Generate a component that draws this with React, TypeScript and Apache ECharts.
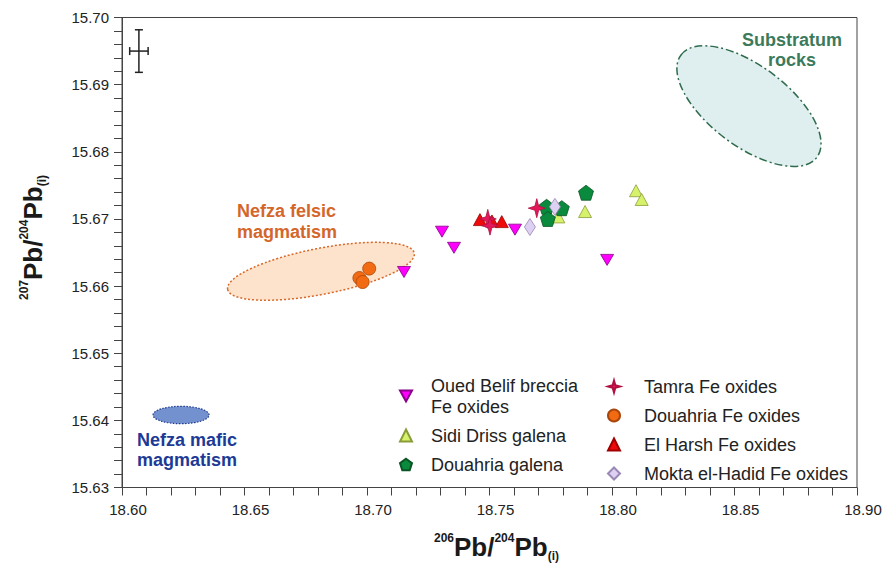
import React, { useEffect, useRef } from "react";
import * as echarts from "echarts";

// ---- Data ----
const xMin = 18.6;
const xMax = 18.9;
const xStep = 0.05;
const yMin = 15.63;
const yMax = 15.7;
const yStep = 0.01;

const ouedBelif = [
  [18.7306, 15.6681],
  [18.7355, 15.6657],
  [18.7151, 15.6621],
  [18.7604, 15.6684],
  [18.798, 15.6639],
];
const sidiDriss = [
  [18.7781, 15.6703],
  [18.789, 15.6711],
  [18.8098, 15.6742],
  [18.8121, 15.6729],
];
const douahriaGalena = [
  [18.7733, 15.6718],
  [18.7795, 15.6716],
  [18.7738, 15.67],
  [18.7894, 15.6739],
];
const tamra = [
  [18.7493, 15.67],
  [18.7502, 15.669],
  [18.7693, 15.6716],
];
const douahriaFe = [
  [18.7009, 15.6626],
  [18.6969, 15.6612],
  [18.6982, 15.6606],
];
const elHarsh = [
  [18.7461, 15.6699],
  [18.751, 15.6697],
  [18.755, 15.6696],
];
const moktaElHadid = [
  [18.7665, 15.6688],
  [18.7767, 15.6718],
];
// field centres: felsic, substratum, mafic
const fieldCentres = [
  [18.6812, 15.6622],
  [18.8559, 15.6868],
  [18.6241, 15.6408],
];
// analytical uncertainty cross: x, y, ±x, ±y
const errorCross = [[18.6069, 15.695, 0.00376, 0.00317]];

const names = {
  oued: "Oued Belif breccia\nFe oxides",
  sidi: "Sidi Driss galena",
  dgal: "Douahria galena",
  tamra: "Tamra Fe oxides",
  dfe: "Douahria Fe oxides",
  harsh: "El Harsh Fe oxides",
  mokta: "Mokta el-Hadid Fe oxides",
};

// ---- Styles ----
const FONT = '"Liberation Sans", Arial, Helvetica, sans-serif';
const fieldStyles = [
  { rx: 95, ry: 23, rot: 11, fill: "#fde3cb", stroke: "#d9692a", dash: [2, 2], lw: 1.5 },
  { rx: 85, ry: 40, rot: -37, fill: "#dfeff0", stroke: "#2f6b4c", dash: [8, 3, 2, 3], lw: 1.5 },
  { rx: 28, ry: 8.7, rot: 0, fill: "#7391cf", stroke: "#1f3a8f", dash: [1.5, 1.5], lw: 1.2 },
];

const STAR = "path://M0,-10 L2.2,-2.2 L10,0 L2.2,2.2 L0,10 L-2.2,2.2 L-10,0 L-2.2,-2.2 Z";
const PENTAGON = "path://M0,-10 L9.51,-3.09 L5.88,8.09 L-5.88,8.09 L-9.51,-3.09 Z";
const DOWN_TRI = "path://M0,0 L10,0 L5,9 Z";

export default function App() {
  const ref = useRef<HTMLDivElement>(null);

  useEffect(() => {
    if (!ref.current) return;
    const chart = echarts.init(ref.current, undefined, { renderer: "svg" });

    const nameRich = {
      sup: { fontSize: 12, fontWeight: "bold", fontFamily: FONT, color: "#1a1a1a", verticalAlign: "top", lineHeight: 14 },
      b: { fontSize: 26, fontWeight: "bold", fontFamily: FONT, color: "#1a1a1a", lineHeight: 30 },
      sub: { fontSize: 12, fontWeight: "bold", fontFamily: FONT, color: "#1a1a1a", verticalAlign: "bottom", lineHeight: 10 },
    };
    const axisName = (a: string, b: string) =>
      `{sup|${a}}{b|Pb/}{sup|${b}}{b|Pb}{sub|(i)}`;

    const axisCommon = {
      axisLine: { show: true, onZero: false, lineStyle: { color: "#444", width: 1 } },
      axisTick: { show: true, inside: false, length: 8, lineStyle: { color: "#444" } },
      minorTick: { show: true, splitNumber: 5, length: 8, lineStyle: { color: "#444" } },
      splitLine: { show: false },
      minorSplitLine: { show: false },
    };

    const scatter = (name: string, data: number[][], symbol: string, size: any, color: string, border: string, rotate = 0) => ({
      type: "scatter",
      name,
      data,
      symbol,
      symbolSize: size,
      symbolRotate: rotate,
      itemStyle: { color, borderColor: border, borderWidth: 0.8, opacity: 1 },
      emphasis: { disabled: true },
    });

    const legendText = (pad: number) => ({
      fontSize: 18,
      fontFamily: FONT,
      color: "#222",
      lineHeight: 21,
      padding: [0, 0, 0, pad],
    });

    chart.setOption({
      animation: false,
      backgroundColor: "#ffffff",
      grid: {
        left: 122,
        right: 28,
        top: 17.5,
        bottom: 80.5,
        show: true,
        borderColor: "#444",
        borderWidth: 1,
        backgroundColor: "transparent",
      },
      xAxis: {
        type: "value",
        min: xMin,
        max: xMax,
        interval: xStep,
        ...axisCommon,
        axisLabel: {
          fontSize: 15,
          fontFamily: FONT,
          color: "#222",
          margin: 14,
          padding: [0, 0, 0, 12],
          formatter: (v: number) => v.toFixed(2),
        },
        name: axisName("206", "204"),
        nameLocation: "middle",
        nameGap: 44,
        nameTextStyle: { rich: nameRich, padding: [0, 0, 0, 14] },
      },
      yAxis: {
        type: "value",
        min: yMin,
        max: yMax,
        interval: yStep,
        ...axisCommon,
        axisLabel: {
          fontSize: 15,
          fontFamily: FONT,
          color: "#222",
          margin: 13,
          formatter: (v: number) => v.toFixed(2),
        },
        name: axisName("207", "204"),
        nameLocation: "middle",
        nameGap: 74,
        nameRotate: 90,
        nameTextStyle: { rich: nameRich, padding: [0, 0, 0, 30] },
      },
      legend: [
        {
          orient: "vertical",
          left: 394,
          top: 370,
          itemGap: 8,
          itemWidth: 12,
          itemHeight: 12,
          selectedMode: false,
          data: [{ name: names.oued, icon: DOWN_TRI }, names.sidi, names.dgal],
          textStyle: legendText(14),
        },
        {
          orient: "vertical",
          left: 602,
          top: 371,
          itemGap: 8,
          itemWidth: 12,
          itemHeight: 12,
          selectedMode: false,
          data: [names.tamra, names.dfe, names.harsh, names.mokta],
          textStyle: legendText(19),
        },
      ],
      graphic: [
        {
          type: "text",
          x: 237,
          y: 200,
          style: {
            text: "Nefza felsic\nmagmatism",
            fill: "#d4662a",
            fontSize: 18,
            fontWeight: "bold",
            fontFamily: FONT,
            lineHeight: 21,
            verticalAlign: "top",
          },
        },
        {
          type: "text",
          x: 792,
          y: 30,
          style: {
            text: "Substratum\nrocks",
            fill: "#3c7a5c",
            fontSize: 18,
            fontWeight: "bold",
            fontFamily: FONT,
            lineHeight: 20,
            align: "center",
            verticalAlign: "top",
          },
        },
        {
          type: "text",
          x: 137,
          y: 430,
          style: {
            text: "Nefza mafic\nmagmatism",
            fill: "#1c3a96",
            fontSize: 18,
            fontWeight: "bold",
            fontFamily: FONT,
            lineHeight: 20,
            verticalAlign: "top",
          },
        },
      ],
      series: [
        {
          type: "custom",
          name: "fields",
          data: fieldCentres,
          encode: { x: 0, y: 1 },
          silent: true,
          renderItem: (params: any, api: any) => {
            const c = api.coord([api.value(0), api.value(1)]);
            const s = fieldStyles[params.dataIndex];
            return {
              type: "ellipse",
              x: c[0],
              y: c[1],
              rotation: (s.rot * Math.PI) / 180,
              shape: { cx: 0, cy: 0, rx: s.rx, ry: s.ry },
              style: { fill: s.fill, stroke: s.stroke, lineWidth: s.lw, lineDash: s.dash },
            };
          },
        },
        {
          type: "custom",
          name: "error",
          data: errorCross,
          encode: { x: 0, y: 1 },
          silent: true,
          renderItem: (params: any, api: any) => {
            const x = api.value(0), y = api.value(1), dx = api.value(2), dy = api.value(3);
            const t = api.coord([x, y + dy]);
            const b = api.coord([x, y - dy]);
            const l = api.coord([x - dx, y]);
            const r = api.coord([x + dx, y]);
            const cap = 4;
            const st = { stroke: "#222", lineWidth: 1.5 };
            const ln = (x1: number, y1: number, x2: number, y2: number) => ({
              type: "line",
              shape: { x1, y1, x2, y2 },
              style: st,
            });
            return {
              type: "group",
              children: [
                ln(t[0], t[1], b[0], b[1]),
                ln(t[0] - cap, t[1], t[0] + cap, t[1]),
                ln(b[0] - cap, b[1], b[0] + cap, b[1]),
                ln(l[0], l[1], r[0], r[1]),
                ln(l[0], l[1] - cap, l[0], l[1] + cap),
                ln(r[0], r[1] - cap, r[0], r[1] + cap),
              ],
            };
          },
        },
        scatter(names.sidi, sidiDriss, "triangle", [13, 12], "#d6f26a", "#8a9c3a"),
        scatter(names.dgal, douahriaGalena, PENTAGON, 15, "#0a8a3c", "#0b5424"),
        scatter(names.harsh, elHarsh, "triangle", [13, 12], "#ee0a0a", "#a00000"),
        scatter(names.tamra, tamra, STAR, [17, 19], "#e4175a", "#b0103f"),
        scatter(names.mokta, moktaElHadid, "diamond", [11, 17], "#ddd0f2", "#9a88b4"),
        scatter(names.oued, ouedBelif, "triangle", [13, 11], "#ff00ff", "#8a008a", 180),
        scatter(names.dfe, douahriaFe, "circle", 13, "#f26a12", "#a8460c"),
      ],
    });

    return () => chart.dispose();
  }, []);

  return (
    <div
      ref={ref}
      style={{ position: "fixed", left: 0, top: 0, width: 885, height: 568, background: "#fff" }}
    />
  );
}
